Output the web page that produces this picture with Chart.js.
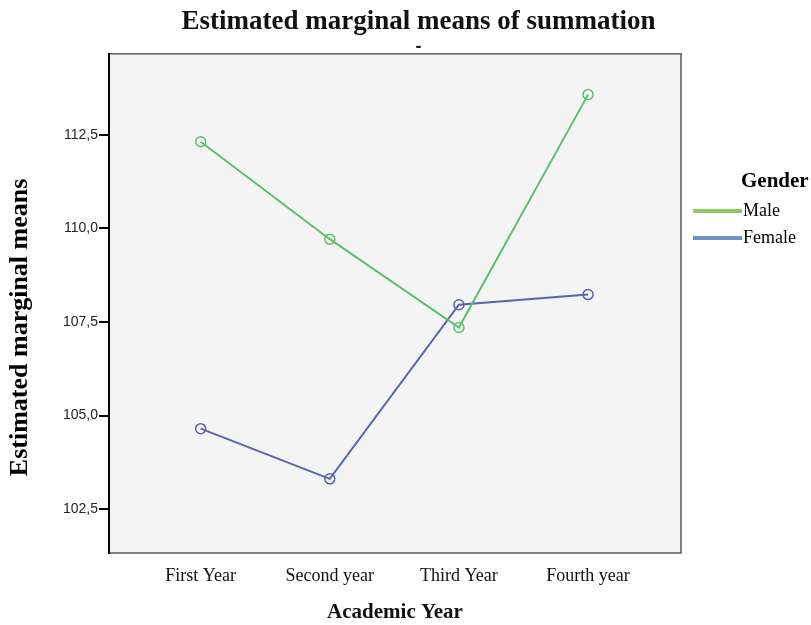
<!DOCTYPE html>
<html>
<head>
<meta charset="utf-8">
<script src="https://cdn.jsdelivr.net/npm/chart.js@4"></script>
<style>
  html, body { margin: 0; padding: 0; background: #ffffff; }
  #wrap { width: 811px; height: 625px; position: relative; }
</style>
</head>
<body>
<div id="wrap"><canvas id="c" width="811" height="625"></canvas></div>
<script>
// ---- data ----
const categories = ['First Year', 'Second year', 'Third Year', 'Fourth year'];
const maleValues = [112.31, 109.71, 107.35, 113.57];
const femaleValues = [104.65, 103.31, 107.96, 108.23];
const yTickValues = [102.5, 105.0, 107.5, 110.0, 112.5];
const seriesNames = ['Male', 'Female'];
const legendTitle = 'Gender';
const chartTitle = 'Estimated marginal means of summation';
const xTitle = 'Academic Year';
const yTitle = 'Estimated marginal means';

const lineColors = ['#5cc06a', '#5865a8'];
const legendColors = ['#8ccb62', '#6b93c2'];

const toPoints = arr => arr.map((v, i) => ({ x: i, y: v }));

const framePlugin = {
  id: 'frame',
  beforeDraw(chart) {
    const { ctx, chartArea: a } = chart;
    ctx.save();
    ctx.fillStyle = '#f4f4f4';
    ctx.fillRect(a.left, a.top, a.right - a.left, a.bottom - a.top);
    ctx.strokeStyle = '#5a5a5a';
    ctx.lineWidth = 1.5;
    ctx.strokeRect(a.left, a.top, a.right - a.left, a.bottom - a.top);
    ctx.restore();
  },
  afterDraw(chart) {
    const { ctx, chartArea: a } = chart;
    ctx.save();
    // y axis title
    ctx.translate(20, (a.top + a.bottom) / 2 + 24);
    ctx.rotate(-Math.PI / 2);
    ctx.font = 'bold 26px "Liberation Serif", "Times New Roman", serif';
    ctx.fillStyle = '#000';
    ctx.textAlign = 'center';
    ctx.textBaseline = 'middle';
    ctx.fillText(yTitle, 0, 0);
    ctx.restore();

    // legend
    ctx.save();
    ctx.fillStyle = '#000';
    ctx.textBaseline = 'middle';
    ctx.textAlign = 'left';
    ctx.font = 'bold 21px "Liberation Serif", "Times New Roman", serif';
    ctx.fillText(legendTitle, 741, 182);
    const ys = [211, 238];
    chart.data.datasets.forEach((ds, i) => {
      ctx.strokeStyle = legendColors[i];
      ctx.lineWidth = 4;
      ctx.beginPath();
      ctx.moveTo(693, ys[i]);
      ctx.lineTo(742, ys[i]);
      ctx.stroke();
      ctx.font = '18px "Liberation Serif", "Times New Roman", serif';
      ctx.fillStyle = '#000';
      ctx.fillText(ds.label, 743, ys[i]);
    });
    ctx.restore();
  }
};

new Chart(document.getElementById('c'), {
  type: 'line',
  data: {
    datasets: [
      {
        label: seriesNames[0],
        data: toPoints(maleValues),
        borderColor: lineColors[0],
        backgroundColor: 'rgba(0,0,0,0)',
        borderWidth: 2,
        pointRadius: 5,
        pointBorderWidth: 1.5,
        pointBackgroundColor: 'rgba(0,0,0,0)',
        pointBorderColor: lineColors[0],
        tension: 0
      },
      {
        label: seriesNames[1],
        data: toPoints(femaleValues),
        borderColor: lineColors[1],
        backgroundColor: 'rgba(0,0,0,0)',
        borderWidth: 2,
        pointRadius: 5,
        pointBorderWidth: 1.5,
        pointBackgroundColor: 'rgba(0,0,0,0)',
        pointBorderColor: lineColors[1],
        tension: 0
      }
    ]
  },
  options: {
    responsive: false,
    animation: false,
    layout: { padding: { left: 26, right: 0, top: 0, bottom: 0 } },
    plugins: {
      legend: { display: false },
      tooltip: { enabled: false },
      title: {
        display: true,
        text: chartTitle,
        color: '#111',
        font: { family: '"Liberation Serif", "Times New Roman", serif', size: 27, weight: 'bold', lineHeight: 1.2 },
        padding: { top: 6, bottom: 0 }
      },
      subtitle: {
        display: true,
        text: '-',
        color: '#222',
        font: { family: '"Liberation Sans", Arial, sans-serif', size: 18, weight: 'bold', lineHeight: 0.8 },
        padding: { top: 1, bottom: 0 }
      }
    },
    scales: {
      x: {
        type: 'linear',
        min: -0.71,
        max: 3.72,
        afterBuildTicks(scale) { scale.ticks = categories.map((c, i) => ({ value: i })); },
        afterFit(scale) { scale.height = 72; },
        grid: { display: false, drawTicks: false },
        border: { display: false },
        ticks: {
          padding: 12,
          color: '#111',
          font: { family: '"Liberation Serif", "Times New Roman", serif', size: 18 },
          maxRotation: 0,
          autoSkip: false,
          callback: (v) => categories[v]
        },
        title: {
          display: true,
          text: xTitle,
          color: '#111',
          font: { family: '"Liberation Serif", "Times New Roman", serif', size: 21, weight: 'bold' },
          padding: { top: 0, bottom: 0 }
        }
      },
      y: {
        min: 101.33,
        max: 114.66,
        afterBuildTicks(scale) { scale.ticks = yTickValues.map(v => ({ value: v })); },
        afterFit(scale) { scale.width = 83; },
        grid: { display: true, drawOnChartArea: false, drawTicks: true, tickLength: 10, color: '#000', lineWidth: 2 },
        border: { display: true, color: '#000', width: 2 },
        ticks: {
          padding: 1,
          color: '#222',
          font: { family: '"Liberation Sans", Arial, sans-serif', size: 14 },
          callback: (v) => v.toFixed(1).replace('.', ',')
        }
      },
      yr: {
        position: 'right',
        display: true,
        afterFit(scale) { scale.width = 130; },
        grid: { display: false, drawTicks: false },
        border: { display: false },
        ticks: { display: false }
      }
    }
  },
  plugins: [framePlugin]
});
</script>
</body>
</html>
